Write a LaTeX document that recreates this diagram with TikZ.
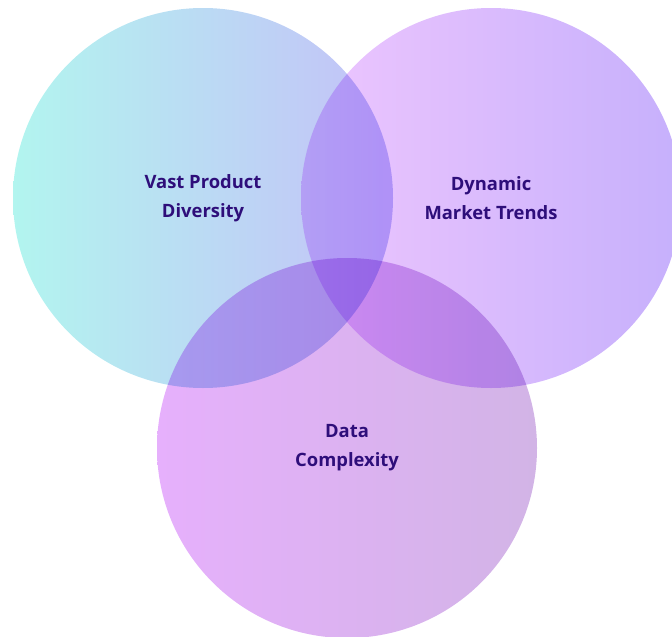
\documentclass[tikz,border=0pt]{standalone}
\usepackage{fontspec}
\setmainfont{Open Sans}
\usetikzlibrary{shapes.geometric, positioning}
\definecolor{VastL}{HTML}{B2F5EF}
\definecolor{VastR}{HTML}{C4C0F8}
\definecolor{DynL}{HTML}{EEC6FE}
\definecolor{DynR}{HTML}{C6B0FC}
\definecolor{DataL}{HTML}{E6B0FC}
\definecolor{DataR}{HTML}{D2B4E6}
\definecolor{VennText}{HTML}{2E0E7A}
\tikzstyle{bubble} = [circle, minimum size=380pt, inner sep=0pt]
\tikzstyle{venntext} = [text centered, align=center, text=VennText, font=\fontsize{18.4}{29}\selectfont\bfseries]

\begin{document}
\begin{tikzpicture}[x=1pt, y=-1pt, node distance=200pt]

\useasboundingbox (0,0) rectangle (672,637);

\begin{scope}[blend group=multiply]
\node (vast) [bubble, left color=VastL, right color=VastR] at (203,198) {};
\node (dynamic) [bubble, left color=DynL, right color=DynR, right of=vast, xshift=88pt] {};
\node (data) [bubble, left color=DataL, right color=DataR, below of=vast, xshift=144pt, yshift=-50pt] {};
\end{scope}

\node (vasttext) [venntext] at (vast) {Vast Product\\Diversity};
\node (dynamictext) [venntext] at (dynamic) {Dynamic\\Market Trends};
\node (datatext) [venntext] at (data) {Data\\Complexity};

\end{tikzpicture}
\end{document}
